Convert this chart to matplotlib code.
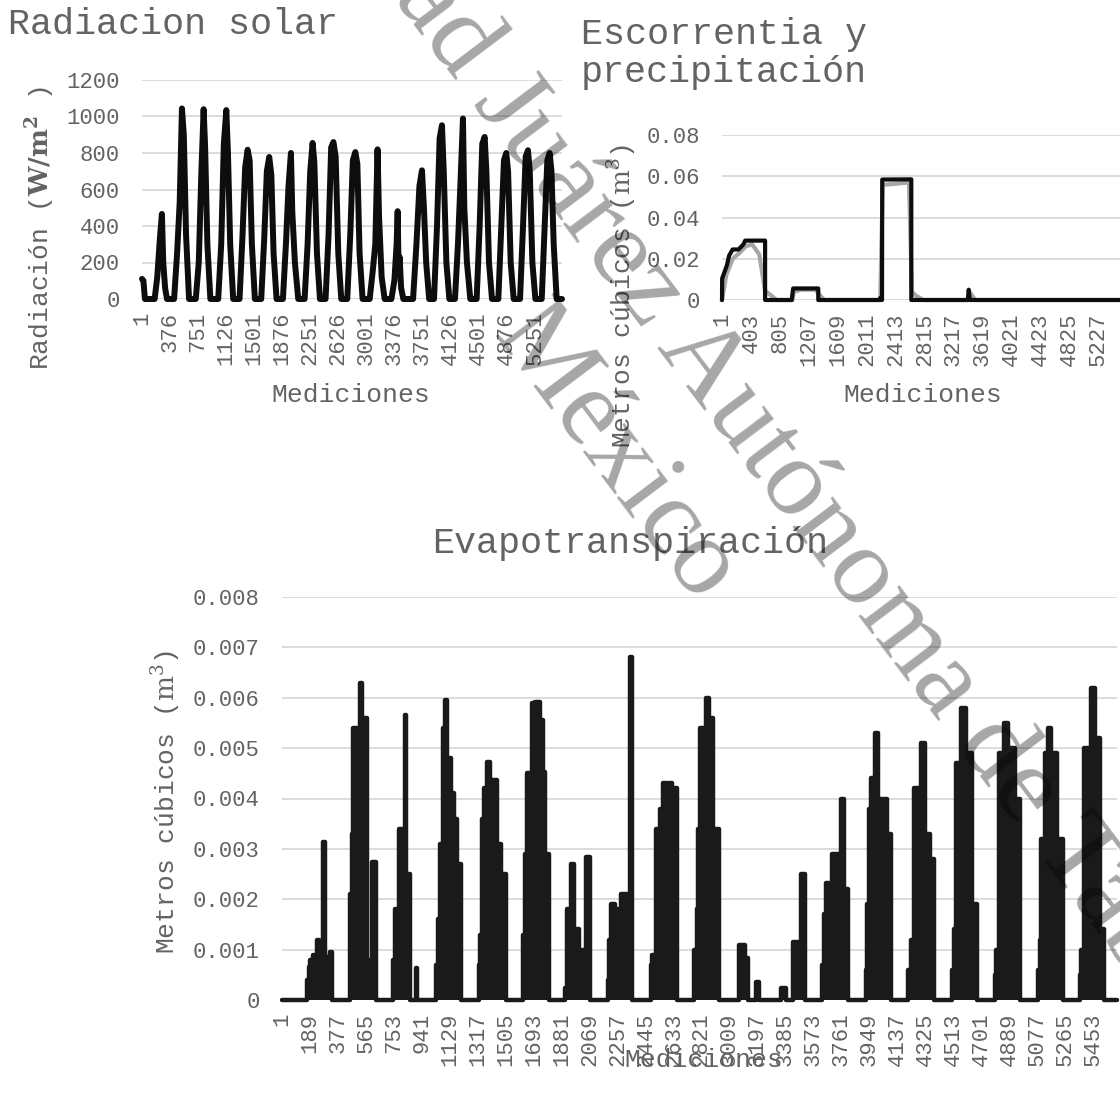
import matplotlib.pyplot as plt

plt.rcParams['font.family'] = ['Liberation Mono', 'DejaVu Sans']
plt.rcParams['mathtext.fontset'] = 'dejavuserif'

W, H = 1120, 1093
n_med = 5616
gris_texto = '#636363'
gris_rejilla = '#d9d9d9'

# Radiacion solar (W/m2): vertices de la serie por numero de medicion
rad_idx = [1, 20, 40,
           170, 205, 240, 267, 285, 310, 335,
           430, 470, 505, 535, 560, 590, 630,
           720, 760, 795, 825, 845, 875, 915,
           1020, 1060, 1095, 1128, 1150, 1180, 1220,
           1305, 1345, 1380, 1413, 1440, 1470, 1510,
           1595, 1635, 1670, 1702, 1730, 1760, 1800,
           1885, 1925, 1960, 1992, 2010, 2045, 2090,
           2175, 2215, 2250, 2282, 2305, 2340, 2380,
           2455, 2495, 2530, 2560, 2590, 2625, 2665,
           2745, 2785, 2820, 2853, 2880, 2910, 2950,
           3045, 3085, 3120, 3150, 3170, 3205, 3245,
           3335, 3375, 3405, 3419, 3432, 3445, 3465, 3495,
           3625, 3670, 3710, 3744, 3770, 3800, 3840,
           3905, 3945, 3980, 4011, 4035, 4070, 4110,
           4185, 4225, 4260, 4292, 4310, 4345, 4390,
           4475, 4515, 4550, 4582, 4605, 4640, 4680,
           4765, 4805, 4840, 4871, 4895, 4930, 4970,
           5055, 5095, 5130, 5161, 5185, 5220, 5260,
           5345, 5385, 5420, 5451, 5475, 5505, 5545,
           5616]
rad_val = [110, 100, 0,
           0, 120, 330, 466, 200, 60, 0,
           0, 250, 530, 1044, 900, 350, 0,
           0, 200, 700, 1040, 830, 300, 0,
           0, 300, 850, 1035, 800, 300, 0,
           0, 350, 720, 818, 760, 300, 0,
           0, 330, 700, 778, 680, 250, 0,
           0, 300, 620, 800, 480, 200, 0,
           0, 300, 700, 855, 750, 250, 0,
           0, 350, 830, 860, 780, 250, 0,
           0, 350, 760, 805, 740, 250, 0,
           0, 150, 300, 820, 450, 120, 0,
           0, 100, 300, 481, 150, 230, 60, 0,
           0, 300, 620, 705, 500, 200, 0,
           0, 400, 880, 952, 700, 200, 0,
           0, 300, 650, 989, 500, 200, 0,
           0, 400, 850, 888, 700, 200, 0,
           0, 400, 760, 800, 700, 200, 0,
           0, 400, 780, 815, 700, 200, 0,
           0, 400, 760, 800, 700, 300, 0,
           0]
rad_ticks = [1, 376, 751, 1126, 1501, 1876, 2251, 2626, 3001, 3376,
             3751, 4126, 4501, 4876, 5251]
rad_yticks = [0, 200, 400, 600, 800, 1000, 1200]

# Escorrentia (negro) y precipitacion (gris), m3
esc_idx = [1, 3, 69, 100, 148, 231, 300, 323, 600, 600,
           970, 990, 1339, 1339, 2193, 2200, 2215, 2225, 2228, 2632, 2632,
           3417, 3430, 3445, 5616]
esc_val = [0, 0.0104, 0.0168, 0.0215, 0.0245, 0.0245, 0.0270, 0.0288, 0.0288, 0,
           0, 0.0056, 0.0056, 0, 0, 0.0010, 0, 0, 0.0584, 0.0585, 0,
           0, 0.0050, 0, 0]
prec_idx = [1, 60, 150, 250, 330, 420, 520, 600, 620, 760,
            980, 1000, 1100, 1300, 1345, 1420,
            2200, 2235, 2300, 2600, 2640, 2700, 2800,
            3420, 3440, 3520, 5616]
prec_val = [0, 0.012, 0.020, 0.023, 0.026, 0.027, 0.022, 0.004, 0.004, 0,
            0, 0.004, 0.005, 0.005, 0.003, 0,
            0, 0.056, 0.056, 0.057, 0.004, 0.002, 0,
            0, 0.004, 0, 0]
esc_ticks = [1, 403, 805, 1207, 1609, 2011, 2413, 2815, 3217, 3619,
             4021, 4423, 4825, 5227]
esc_yticks = [0, 0.02, 0.04, 0.06, 0.08]
esc_ylabels = ['0', '0.02', '0.04', '0.06', '0.08']

# Evapotranspiracion (m3), valores escalonados por medicion
evap_idx = [1,
            170, 180, 188, 210, 233, 251, 278, 290, 295, 312, 322, 340,
            457, 470, 480, 525, 540, 548, 575, 608, 631,
            745, 762, 790, 825, 838, 860, 900, 912,
            1039, 1050, 1066, 1084, 1095, 1110, 1135, 1155, 1175, 1207,
            1325, 1330, 1346, 1357, 1380, 1400, 1410, 1445, 1475, 1504,
            1621, 1635, 1650, 1685, 1705, 1735, 1755, 1770, 1795,
            1907, 1918, 1945, 1962, 2000, 2020, 2045, 2070,
            2190, 2198, 2215, 2240, 2262, 2282, 2338, 2356,
            2483, 2492, 2515, 2540, 2565, 2590, 2605, 2625, 2657,
            2774, 2790, 2800, 2815, 2850, 2875, 2900, 2941,
            3076, 3115, 3138, 3190, 3208, 3355, 3392,
            3434, 3490, 3515,
            3635, 3646, 3660, 3680, 3700, 3760, 3780, 3808,
            3926, 3937, 3950, 3965, 3990, 4010, 4045, 4070, 4099,
            4213, 4229, 4248, 4295, 4325, 4360, 4385,
            4504, 4520, 4530, 4565, 4600, 4640, 4672,
            4795, 4804, 4825, 4855, 4880, 4930, 4963,
            5086, 5095, 5108, 5130, 5150, 5175, 5215, 5254,
            5370, 5377, 5395, 5440, 5470, 5500, 5527,
            5616]
evap_val = [0,
            0.0004, 0.00065, 0.00079, 0.00089, 0.00119, 0.0007, 0.00314, 0.0007, 0.00086, 0.0005, 0.00096, 0,
            0.0021, 0.0033, 0.0054, 0.0063, 0.0054, 0.0056, 0.0008, 0.00273, 0,
            0.0008, 0.0018, 0.0034, 0.00565, 0.0025, 0, 0.00063, 0,
            0.0007, 0.0016, 0.0031, 0.0054, 0.00595, 0.0048, 0.0041, 0.0036, 0.0027, 0,
            0.0007, 0.0013, 0.0036, 0.0042, 0.00473, 0.0040, 0.00437, 0.0031, 0.0025, 0,
            0.0013, 0.0029, 0.0045, 0.00589, 0.00592, 0.00555, 0.00452, 0.0029, 0,
            0.00023, 0.0018, 0.0027, 0.0014, 0.0004, 0.001, 0.00284, 0,
            0.0004, 0.0012, 0.0019, 0.0018, 0.0015, 0.0021, 0.0068, 0,
            0.0007, 0.0009, 0.0034, 0.0038, 0.0043, 0.0039, 0.0043, 0.0042, 0,
            0.001, 0.0018, 0.0034, 0.0054, 0.0060, 0.0056, 0.0034, 0,
            0.00109, 0.00083, 0, 0.00036, 0, 0.00023, 0,
            0.00116, 0.0025, 0,
            0.0007, 0.0017, 0.00232, 0.0017, 0.0029, 0.0040, 0.0022, 0,
            0.0006, 0.0019, 0.0038, 0.0044, 0.0053, 0.0040, 0.0040, 0.0033, 0,
            0.0006, 0.0012, 0.0042, 0.0051, 0.0033, 0.0028, 0,
            0.0006, 0.0014, 0.0047, 0.0058, 0.0049, 0.0019, 0,
            0.0005, 0.001, 0.0049, 0.0055, 0.0050, 0.0040, 0,
            0.0006, 0.0012, 0.0032, 0.0049, 0.0054, 0.0049, 0.0032, 0,
            0.0005, 0.001, 0.0050, 0.0062, 0.0052, 0.0014, 0,
            0]
evap_ticks = [1, 189, 377, 565, 753, 941, 1129, 1317, 1505, 1693, 1881,
              2069, 2257, 2445, 2633, 2821, 3009, 3197, 3385, 3573, 3761,
              3949, 4137, 4325, 4513, 4701, 4889, 5077, 5265, 5453]
evap_yticks = [0, 0.001, 0.002, 0.003, 0.004, 0.005, 0.006, 0.007, 0.008]
evap_ylabels = ['0', '0.001', '0.002', '0.003', '0.004', '0.005', '0.006',
                '0.007', '0.008']


def caja(izq, arriba, der, abajo):
    return [izq / W, 1 - abajo / H, (der - izq) / W, (abajo - arriba) / H]


def figx(x):
    return x / W


def figy(y):
    return 1 - y / H


def formato(ax, ticks, yticks, ylabels, ymax):
    ax.set_xlim(1, n_med)
    ax.set_ylim(0, ymax)
    ax.set_xticks(ticks)
    ax.set_xticklabels([str(t) for t in ticks], rotation=90)
    ax.set_yticks(yticks)
    ax.set_yticklabels(ylabels)
    ax.grid(axis='y', color=gris_rejilla, linewidth=1.3)
    ax.set_axisbelow(True)
    for s in ax.spines.values():
        s.set_visible(False)
    ax.tick_params(axis='both', length=0, labelsize=16, colors=gris_texto)
    ax.tick_params(axis='y', pad=16)
    ax.tick_params(axis='x', pad=9)


def titulos_ejes(ax, xlab_pos, ylab, ylab_pos):
    ax.set_xlabel('Mediciones', fontsize=19, color=gris_texto,
                  va='center', ha='center')
    ax.xaxis.set_label_coords(figx(xlab_pos[0]), figy(xlab_pos[1]),
                              transform=fig.transFigure)
    ax.set_ylabel(ylab, fontsize=19, color=gris_texto, va='center', ha='center')
    ax.yaxis.set_label_coords(figx(ylab_pos[0]), figy(ylab_pos[1]),
                              transform=fig.transFigure)


fig = plt.figure(figsize=(W / 100, H / 100), dpi=100)

# Radiacion solar
ax1 = fig.add_axes(caja(142, 80, 562, 299))
ax1.plot(rad_idx, rad_val, color='#0d0d0d', linewidth=4.3,
         solid_joinstyle='round', solid_capstyle='round', clip_on=False)
formato(ax1, rad_ticks, rad_yticks, [str(v) for v in rad_yticks], 1200)
titulos_ejes(ax1, (351, 395), r'Radiación ($\mathbf{W/m^2}$ )', (40, 228))
fig.text(figx(8), figy(34), 'Radiacion solar', fontsize=26.5, color=gris_texto,
         va='baseline')

# Escorrentia y precipitacion
ax2 = fig.add_axes(caja(722, 135, 1126, 300))
ax2.plot(prec_idx, prec_val, color='#a6a6a6', linewidth=3.0,
         solid_joinstyle='round', clip_on=False)
ax2.plot(esc_idx, esc_val, color='#0d0d0d', linewidth=3.0,
         solid_joinstyle='round', solid_capstyle='round', clip_on=False)
formato(ax2, esc_ticks, esc_yticks, esc_ylabels, 0.08)
titulos_ejes(ax2, (923, 395), r'Metros cúbicos ($\mathrm{m^3}$)', (622, 296))
fig.text(figx(581), figy(44), 'Escorrentia y', fontsize=26.5, color=gris_texto,
         va='baseline')
fig.text(figx(581), figy(82), 'precipitación', fontsize=26.5, color=gris_texto,
         va='baseline')

# Evapotranspiracion
ax3 = fig.add_axes(caja(282, 597, 1117, 1000))
ax3.fill_between(evap_idx, evap_val, step='post', color='#1a1a1a', linewidth=0)
ax3.plot(evap_idx, evap_val, color='#1a1a1a', linewidth=3.2, drawstyle='steps-post',
         solid_joinstyle='round', solid_capstyle='round', clip_on=False)
formato(ax3, evap_ticks, evap_yticks, evap_ylabels, 0.008)
titulos_ejes(ax3, (704, 1060), r'Metros cúbicos ($\mathrm{m^3}$)', (166, 802))
fig.text(figx(630), figy(553), 'Evapotranspiración', fontsize=26.5,
         color=gris_texto, va='baseline', ha='center')

# Marca de agua institucional
for texto, cx, cy in [('Universidad Juárez Autónoma de Tabasco', 712, 376),
                      ('México', 615, 455)]:
    fig.text(figx(cx), figy(cy), texto, fontsize=80, family='Liberation Serif',
             color='black', alpha=0.35, rotation=-53, rotation_mode='anchor',
             ha='center', va='center', zorder=10)

fig.savefig('out.png', dpi=100)
